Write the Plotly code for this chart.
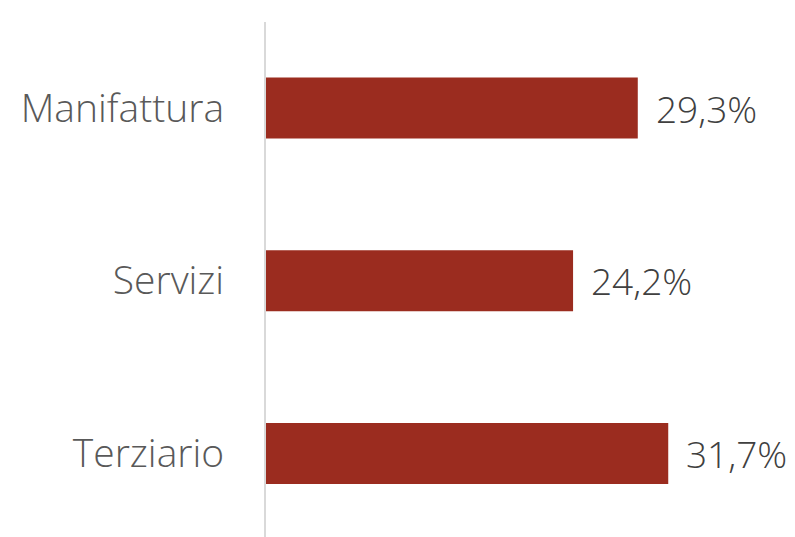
import plotly.graph_objects as go

categories = ["Manifattura", "Servizi", "Terziario"]
values = [29.3, 24.2, 31.7]
value_labels = ["29,3%", "24,2%", "31,7%"]

bar_color = "#9B2C1F"
font_family = "Open Sans, Lato, sans-serif"

fig = go.Figure()
fig.add_trace(go.Bar(
    y=categories, x=values, orientation="h",
    marker=dict(color=bar_color, line=dict(width=0)),
    width=0.353, hoverinfo="skip",
))
for c, v, t in zip(categories, values, value_labels):
    fig.add_annotation(x=v, y=c, text=t, showarrow=False, xanchor="left",
                       xshift=16, font=dict(family=font_family, size=37,
                                            color="#404040", weight=300))

# page body has an 8px default margin, so the figure is offset by 8px
fig.update_layout(
    width=787, height=529,
    margin=dict(l=258, r=0, t=14, b=0),
    plot_bgcolor="white", paper_bgcolor="white",
    showlegend=False,
    xaxis=dict(range=[0, 41.69], visible=False, showgrid=False, zeroline=False,
               automargin=False),
    yaxis=dict(range=[2.483, -0.498], showgrid=False, zeroline=False,
               showline=True, linecolor="#D9D9D9", linewidth=2,
               ticks="", ticklabelstandoff=32, automargin=False,
               tickfont=dict(family=font_family, size=39, color="#595959",
                             weight=300)),
)
fig.write_html("out.html")
